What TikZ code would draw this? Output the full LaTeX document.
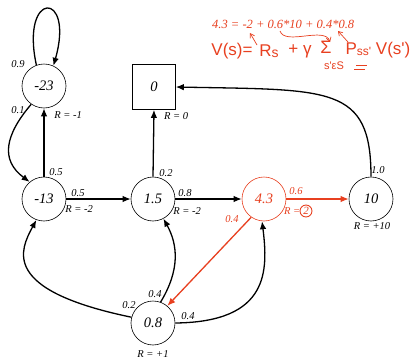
\documentclass[tikz,border=0pt]{standalone}
\usepackage{fontspec}
\setmainfont{Liberation Serif}
\newfontfamily\hand{Liberation Sans}
\usetikzlibrary{arrows.meta}
\definecolor{hred}{RGB}{232,64,32}
\begin{document}
\begin{tikzpicture}[x=1pt,y=-1pt,
 st/.style={circle,draw,line width=0.6pt,minimum size=44pt,inner sep=0pt,font=\fontsize{14.5}{14.5}\selectfont\itshape},
 lab/.style={font=\fontsize{10.5}{10.5}\selectfont\itshape,inner sep=0pt},
 arr/.style={line width=1.3pt,-{Latex[length=8pt,width=6.5pt]}},
 rarr/.style={arr,draw=hred},
 hw/.style={text=hred,inner sep=0pt,font=\hand\fontsize{17}{17}\selectfont},
 hline/.style={draw=hred,line width=0.7pt},
 harr/.style={hline,-{Straight Barb[length=4pt,width=5pt]}}
]
\useasboundingbox (0,0) rectangle (413,359);
\fill[white] (0,0) rectangle (413,359);

% states
\node[st] (m23) at (44,86) {-23};
\node[st] (m13) at (44,199) {-13};
\node[st] (a15) at (153,199) {1.5};
\node[st,draw=hred,text=hred] (b43) at (264,199) {4.3};
\node[st] (t10) at (371,199) {10};
\node[st] (e08) at (153,323) {0.8};
\node[draw,line width=0.6pt,minimum width=43pt,minimum height=45pt,inner sep=0pt,font=\fontsize{14.5}{14.5}\selectfont\itshape] (z0) at (154,87) {0};

% edges
\draw[arr] (m23.110) .. controls (20,-10) and (75,-10) .. (m23.65);
\draw[arr] (m23.235) .. controls (5,135) and (0,160) .. (m13.130);
\draw[arr] (m13.north) -- (m23.south);
\draw[arr] (m13.east) -- (a15.west);
\draw[arr] (a15.north) -- (z0.south);
\draw[arr] (a15.east) -- (b43.west);
\draw[rarr] (b43.east) -- (t10.west);
\draw[arr] (t10.north) .. controls (371,85) and (330,90) .. (z0.east);
\draw[rarr] (b43.235) -- (e08.50);
\draw[arr] (e08.70) .. controls (180,270) and (178,245) .. (a15.-62);
\draw[arr] (e08.east) .. controls (270,322) and (268,270) .. (b43.-95);
\draw[arr] (e08.165) .. controls (0,290) and (20,250) .. (m13.-110);

% labels
\node[lab] (l1) at (18,64) {0.9};
\node[lab] (l2) at (18,110) {0.1};
\node[lab] (l3) at (68,115) {R = -1};
\node[lab] (l4) at (56,172) {0.5};
\node[lab] (l5) at (78,193) {0.5};
\node[lab] (l6) at (79,209) {R = -2};
\node[lab] (l7) at (166,173) {0.2};
\node[lab] (l8) at (185,193) {0.8};
\node[lab] (l9) at (187,211) {R = -2};
\node[lab] (l10) at (176,116) {R = 0};
\node[lab,text=hred] (l11) at (296,191) {0.6};
\node[lab,text=hred,anchor=west] (l12) at (284,211) {R =};
\node[draw=hred,circle,line width=0.9pt,inner sep=1pt,text=hred,font=\fontsize{11}{11}\selectfont\itshape] (l12b) at (306,211) {2};
\node[lab,text=hred] (l13) at (232,219) {0.4};
\node[lab] (l14) at (378,170) {1.0};
\node[lab] (l15) at (372,226) {R = +10};
\node[lab] (l16) at (129,305) {0.2};
\node[lab] (l17) at (155,294) {0.4};
\node[lab] (l18) at (188,316) {0.4};
\node[lab] (l19) at (153,354) {R = +1};

% annotation
\node[text=hred,inner sep=0pt,font=\fontsize{12.5}{12.5}\selectfont\itshape,anchor=west] (eq) at (212,24) {4.3 = -2 + 0.6*10 + 0.4*0.8};
\node[hw] (hV) at (232,51) {V(s)=};
\node[hw] (hR) at (269,51) {R\raisebox{-1pt}{\fontsize{14}{14}\selectfont s}};
\node[hw] (hG) at (300,51) {+ γ};
\node[hw,font=\hand\fontsize{18}{18}\selectfont] (hS) at (326,47) {Σ};
\node[hw,font=\hand\fontsize{11}{11}\selectfont] (hSub) at (334,66) {s'εS};
\node[hw] (hP) at (378,50) {P\raisebox{-1pt}{\fontsize{12}{12}\selectfont ss'} V(s')};
\coordinate (u1) at (356,65);
\coordinate (u2) at (367,65);
\coordinate (u3) at (354,69);
\coordinate (u4) at (365,69);
\draw[hline] (u1) -- (u2) (u3) -- (u4);
\coordinate (a1s) at (257,45);
\coordinate (a1e) at (250,33);
\draw[harr] (a1s) -- (a1e);
\coordinate (a2s) at (280,31);
\coordinate (a2e) at (330,42);
\draw[harr] (a2s) .. controls (285,46) and (325,26) .. (a2e);
\coordinate (a3s) at (348,42);
\coordinate (a3e) at (338,31);
\draw[harr] (a3s) -- (a3e);
\end{tikzpicture}
\end{document}
